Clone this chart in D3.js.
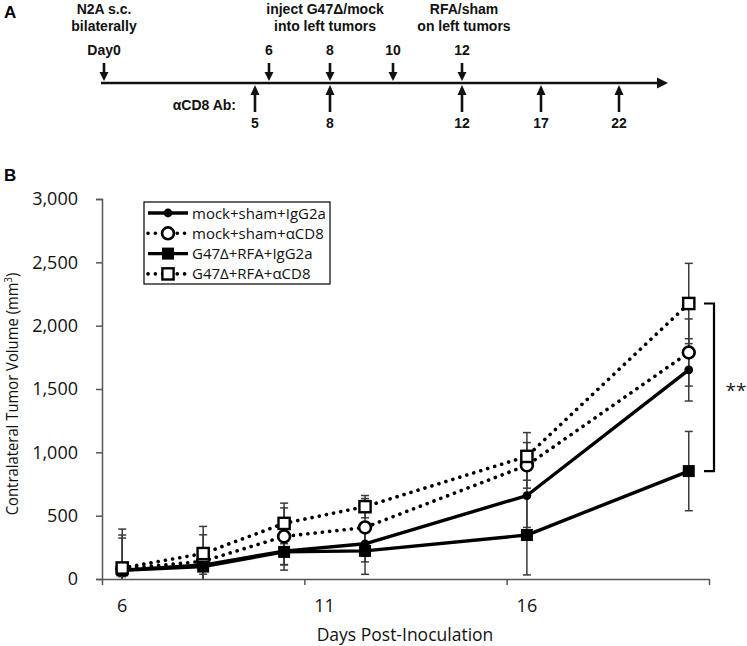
<!DOCTYPE html>
<html><head><meta charset="utf-8">
<script src="https://cdn.jsdelivr.net/npm/d3@7"></script>
<style>
body{margin:0;background:#fff;}
svg{display:block;}
</style></head>
<body>
<script>
// ---------- Panel A: timeline ----------
const timelineDays = [0, 5, 6, 8, 10, 12, 17, 22];
const treatmentDays = [0, 6, 8, 10, 12];           // down arrows
const treatmentLabels = ["Day0", "6", "8", "10", "12"];
const antibodyDays = [5, 8, 12, 17, 22];           // up arrows
const antibodyLabels = ["5", "8", "12", "17", "22"];
const eventDays = [0, 8, 12];
const eventLine1 = ["N2A s.c.", "inject G47Δ/mock", "RFA/sham"];
const eventLine2 = ["bilaterally", "into left tumors", "on left tumors"];

// ---------- Panel B: data ----------
const days = [6, 8, 10, 12, 16, 20];
const seriesNames = ["mock+sham+IgG2a", "mock+sham+αCD8", "G47Δ+RFA+IgG2a", "G47Δ+RFA+αCD8"];
const mockShamIgG2a = [70, 110, 220, 278, 659, 1651];
const mockShamCD8   = [80, 140, 336, 407, 897, 1788];
const g47RfaIgG2a   = [68, 98, 214, 222, 347, 852];
const g47RfaCD8     = [87, 201, 439, 571, 968, 2175];
const errMockShamIgG2a = [253, 120, 150, 143, 252, 246];
const errMockShamCD8   = [267, 209, 225, 228, 180, 265];
const errG47RfaIgG2a   = [50, 60, 100, 185, 315, 313];
const errG47RfaCD8     = [307, 214, 160, 88, 188, 317];
const yTicks = [0, 500, 1000, 1500, 2000, 2500, 3000];
const xTickMarks = [5.5, 10.5, 15.5, 20.5];
const xTickLabels = [6, 11, 16];

const W = 747, H = 646;
const svg = d3.select("body").append("svg").attr("width", W).attr("height", H);

// ===== Panel A =====
const boldFont = "'Liberation Sans', Arial, sans-serif";
svg.append("text").attr("x", 4).attr("y", 18).text("A")
  .attr("font-family", boldFont).attr("font-weight", "bold").attr("font-size", 17);

const tx = d3.scaleLinear().domain(timelineDays).range([104, 255, 269, 330, 393, 462, 541, 619]);
const lineY = 83;
const gA = svg.append("g").attr("font-family", boldFont).attr("font-weight", "bold").attr("font-size", 14).attr("text-anchor", "middle").attr("fill", "#111");

gA.append("line").attr("x1", tx(0) - 3).attr("x2", 660).attr("y1", lineY).attr("y2", lineY)
  .attr("stroke", "#111").attr("stroke-width", 2.5);
gA.append("path").attr("d", `M657,${lineY-5.5}L668,${lineY}L657,${lineY+5.5}Z`).attr("fill", "#111");

// down arrows
treatmentDays.forEach((d, i) => {
  const x = tx(d);
  gA.append("line").attr("x1", x).attr("x2", x).attr("y1", 63).attr("y2", 74)
    .attr("stroke", "#111").attr("stroke-width", 2.6);
  gA.append("path").attr("d", `M${x-4.5},72L${x+4.5},72L${x},81Z`).attr("fill", "#111");
  gA.append("text").attr("x", x).attr("y", 55).text(treatmentLabels[i]);
});
// up arrows
antibodyDays.forEach((d, i) => {
  const x = tx(d);
  gA.append("line").attr("x1", x).attr("x2", x).attr("y1", 93).attr("y2", 112)
    .attr("stroke", "#111").attr("stroke-width", 2.6);
  gA.append("path").attr("d", `M${x-4.5},95L${x+4.5},95L${x},85Z`).attr("fill", "#111");
  gA.append("text").attr("x", x).attr("y", 128).text(antibodyLabels[i]);
});
gA.append("text").attr("x", 236).attr("y", 110).attr("text-anchor", "end").text("αCD8 Ab:");
eventDays.forEach((d, i) => {
  const x = d === 8 ? tx(d) - 5 : tx(d) + (d === 12 ? 2 : 0);
  gA.append("text").attr("x", x).attr("y", 14).text(eventLine1[i]);
  gA.append("text").attr("x", x).attr("y", 31).text(eventLine2[i]);
});

// ===== Panel B =====
svg.append("text").attr("x", 4).attr("y", 181).text("B")
  .attr("font-family", boldFont).attr("font-weight", "bold").attr("font-size", 17);

const font = "'Open Sans', sans-serif";
const x = d3.scaleLinear().domain([5.5, 20.5]).range([102, 709]);
const y = d3.scaleLinear().domain([0, 3000]).range([579, 199]);
const axisColor = "#555";

const gB = svg.append("g").attr("font-family", font);

// y axis
const yAxis = gB.append("g").attr("transform", `translate(${x(5.5)},0)`)
  .call(d3.axisLeft(y).tickValues(yTicks).tickFormat(d3.format(",")).tickSize(6).tickPadding(18));
yAxis.select(".domain").attr("stroke", axisColor).attr("stroke-width", 1.5);
yAxis.selectAll(".tick line").attr("stroke", axisColor).attr("stroke-width", 1.5);
yAxis.selectAll(".tick text").attr("font-family", font).attr("font-size", 18).attr("fill", "#111");

// x axis
const xAxis = gB.append("g").attr("transform", `translate(0,${y(0)})`)
  .call(d3.axisBottom(x).tickValues(xTickMarks).tickFormat("").tickSize(6).tickSizeOuter(0));
xAxis.select(".domain").attr("stroke", axisColor).attr("stroke-width", 1.5);
xAxis.selectAll(".tick line").attr("stroke", axisColor).attr("stroke-width", 1.5);
gB.append("g").selectAll("text").data(xTickLabels).join("text")
  .attr("x", d => x(d)).attr("y", y(0) + 33).attr("text-anchor", "middle")
  .attr("font-size", 18).attr("fill", "#111").text(d => d);

// axis titles
gB.append("text").attr("x", 405).attr("y", 641).attr("text-anchor", "middle")
  .attr("font-size", 17.5).attr("fill", "#111").text("Days Post-Inoculation");
const yt = gB.append("text").attr("transform", `translate(18,394) rotate(-90) scale(0.9,1)`)
  .attr("text-anchor", "middle").attr("font-size", 16.5).attr("fill", "#111");
yt.append("tspan").text("Contralateral Tumor Volume (mm");
yt.append("tspan").attr("dy", -6).attr("font-size", 10.5).text("3");
yt.append("tspan").attr("dy", 6).text(")");

// clip
svg.append("clipPath").attr("id", "plot").append("rect")
  .attr("x", x(5.5)).attr("y", y(3000) - 5).attr("width", x(20.5) - x(5.5)).attr("height", y(0) - y(3000) + 5);

const series = [
  {name: seriesNames[0], vals: mockShamIgG2a, err: errMockShamIgG2a, dotted: false, marker: "circle", fill: "#000"},
  {name: seriesNames[1], vals: mockShamCD8, err: errMockShamCD8, dotted: true, marker: "circle", fill: "#fff"},
  {name: seriesNames[2], vals: g47RfaIgG2a, err: errG47RfaIgG2a, dotted: false, marker: "square", fill: "#000"},
  {name: seriesNames[3], vals: g47RfaCD8, err: errG47RfaCD8, dotted: true, marker: "square", fill: "#fff"}
];

const plot = gB.append("g").attr("clip-path", "url(#plot)");
// error bars
series.forEach(s => {
  const g = plot.append("g").attr("stroke", "#3a3a3a").attr("stroke-width", 1.5);
  days.forEach((d, i) => {
    const cx = x(d), hi = y(s.vals[i] + s.err[i]), lo = y(s.vals[i] - s.err[i]);
    g.append("line").attr("x1", cx).attr("x2", cx).attr("y1", hi).attr("y2", lo);
    g.append("line").attr("x1", cx - 4).attr("x2", cx + 4).attr("y1", hi).attr("y2", hi);
    g.append("line").attr("x1", cx - 4).attr("x2", cx + 4).attr("y1", lo).attr("y2", lo);
  });
});

const line = d3.line().x((d, i) => x(days[i])).y(d => y(d));
function styleLine(sel, dotted) {
  sel.attr("fill", "none").attr("stroke", "#000");
  if (dotted) sel.attr("stroke-width", 3.6).attr("stroke-dasharray", "0.1 7.2").attr("stroke-linecap", "round");
  else sel.attr("stroke-width", 3.4).attr("stroke-linejoin", "round");
}
function drawMarker(g, s, cx, cy) {
  if (s.marker === "circle") {
    if (s.fill === "#000") g.append("circle").attr("cx", cx).attr("cy", cy).attr("r", 4.4).attr("fill", "#000");
    else g.append("circle").attr("cx", cx).attr("cy", cy).attr("r", 5.9).attr("fill", "#fff").attr("stroke", "#000").attr("stroke-width", 2.6);
  } else {
    if (s.fill === "#000") g.append("rect").attr("x", cx - 6).attr("y", cy - 6).attr("width", 12).attr("height", 12).attr("fill", "#000");
    else g.append("rect").attr("x", cx - 5.6).attr("y", cy - 5.6).attr("width", 11.2).attr("height", 11.2).attr("fill", "#fff").attr("stroke", "#000").attr("stroke-width", 2.4);
  }
}
series.forEach(s => {
  styleLine(plot.append("path").attr("d", line(s.vals)), s.dotted);
});
series.forEach(s => {
  const g = plot.append("g");
  days.forEach((d, i) => drawMarker(g, s, x(d), y(s.vals[i])));
});

// legend
const lg = gB.append("g");
lg.append("rect").attr("x", 144).attr("y", 202).attr("width", 186).attr("height", 82)
  .attr("fill", "#fff").attr("stroke", "#000").attr("stroke-width", 1.2);
series.forEach((s, i) => {
  const cy = 213 + i * 20.3;
  styleLine(lg.append("line").attr("x1", 148).attr("x2", 188).attr("y1", cy).attr("y2", cy), s.dotted);
  drawMarker(lg, s, 168, cy);
  lg.append("text").attr("x", 192).attr("y", cy + 5.5).attr("font-size", 15).attr("fill", "#111").text(s.name);
});

// significance bracket
const yTop = y(g47RfaCD8[g47RfaCD8.length - 1]);
const yBot = y(g47RfaIgG2a[g47RfaIgG2a.length - 1]);
gB.append("path").attr("d", `M704,${yTop}H714V${yBot}H704`).attr("fill", "none")
  .attr("stroke", "#000").attr("stroke-width", 2.2);
gB.append("text").attr("x", 736).attr("y", (yTop + yBot) / 2 + 10).attr("text-anchor", "middle")
  .attr("font-size", 19).attr("fill", "#222").text("**");
</script>
</body></html>
